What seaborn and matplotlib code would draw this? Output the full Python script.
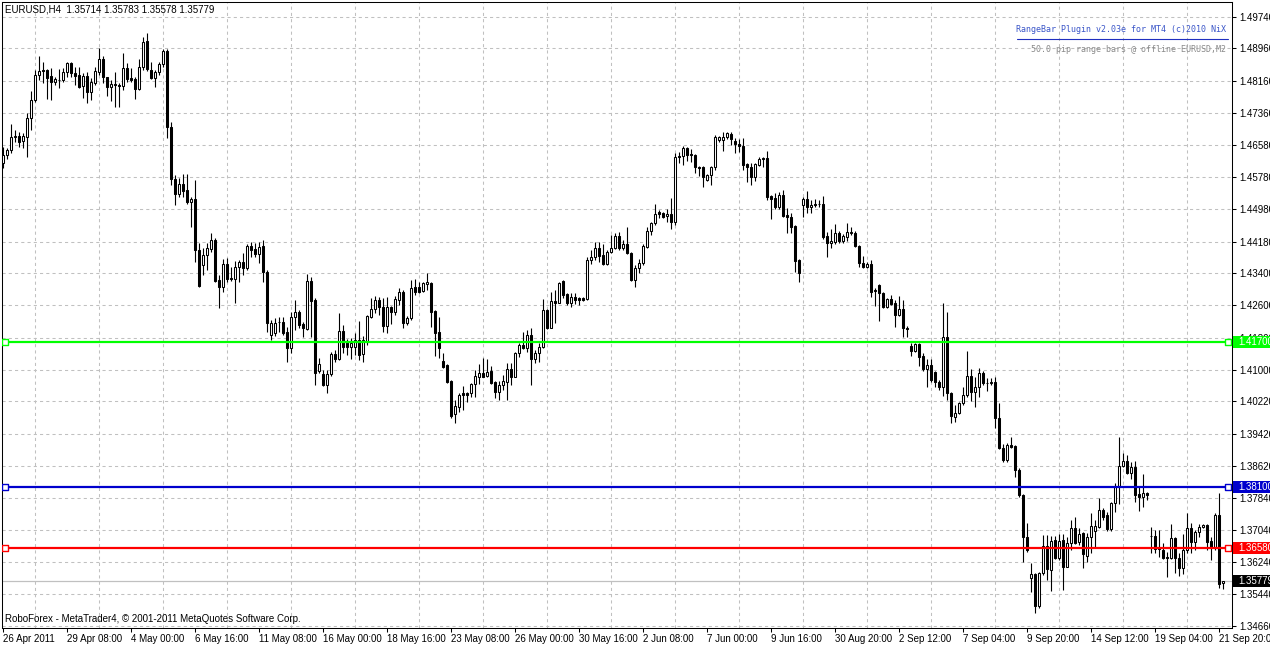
import numpy as np
import pandas as pd
import matplotlib
matplotlib.use("Agg")
import matplotlib.pyplot as plt
from matplotlib.patches import Rectangle
from matplotlib.lines import Line2D
from matplotlib.transforms import blended_transform_factory
import seaborn as sns

# ---------------- data (EURUSD H4 range bars) ----------------
symbol_info = "EURUSD,H4  1.35714 1.35783 1.35578 1.35779"

opens = [
    1.4612, 1.4632, 1.4645, 1.4677, 1.4679, 1.4667, 1.4677, 1.4724, 1.4768, 1.4830,
    1.4843, 1.4843, 1.4828, 1.4813, 1.4818, 1.4818, 1.4838, 1.4860, 1.4835, 1.4830,
    1.4803, 1.4828, 1.4788, 1.4811, 1.4838, 1.4870, 1.4825, 1.4801, 1.4808, 1.4806,
    1.4803, 1.4848, 1.4823, 1.4820, 1.4796, 1.4850, 1.4915, 1.4843, 1.4823, 1.4838,
    1.4858, 1.4890, 1.4702, 1.4573, 1.4536, 1.4560, 1.4546, 1.4516, 1.4523, 1.4397,
    1.4360, 1.4385, 1.4400, 1.4422, 1.4323, 1.4305, 1.4362, 1.4328, 1.4325, 1.4355,
    1.4367, 1.4352, 1.4407, 1.4400, 1.4387, 1.4407, 1.4343, 1.4186, 1.4192, 1.4219,
    1.4219, 1.4194, 1.4154, 1.4231, 1.4243, 1.4214, 1.4201, 1.4320, 1.4273, 1.4097,
    1.4090, 1.4063, 1.4090, 1.4140, 1.4127, 1.4196, 1.4169, 1.4157, 1.4157, 1.4174,
    1.4140, 1.4169, 1.4231, 1.4251, 1.4273, 1.4256, 1.4209, 1.4256, 1.4243, 1.4273,
    1.4293, 1.4216, 1.4229, 1.4305, 1.4305, 1.4296, 1.4313, 1.4315, 1.4246, 1.4194,
    1.4122, 1.4112, 1.4073, 1.3991, 1.4008, 1.4043, 1.4043, 1.4043, 1.4065, 1.4083,
    1.4092, 1.4085, 1.4097, 1.4070, 1.4045, 1.4063, 1.4070, 1.4102, 1.4083, 1.4142,
    1.4162, 1.4154, 1.4186, 1.4127, 1.4142, 1.4157, 1.4248, 1.4204, 1.4271, 1.4266,
    1.4320, 1.4288, 1.4266, 1.4281, 1.4278, 1.4278, 1.4276, 1.4372, 1.4380, 1.4402,
    1.4385, 1.4362, 1.4392, 1.4402, 1.4432, 1.4402, 1.4412, 1.4390, 1.4323, 1.4352,
    1.4365, 1.4404, 1.4444, 1.4464, 1.4491, 1.4489, 1.4481, 1.4486, 1.4466, 1.4630,
    1.4630, 1.4650, 1.4635, 1.4632, 1.4603, 1.4603, 1.4570, 1.4583, 1.4603, 1.4669,
    1.4669, 1.4677, 1.4684, 1.4667, 1.4660, 1.4655, 1.4610, 1.4603, 1.4578, 1.4607,
    1.4625, 1.4625, 1.4531, 1.4526, 1.4503, 1.4533, 1.4484, 1.4479, 1.4456, 1.4372,
    1.4508, 1.4523, 1.4503, 1.4511, 1.4511, 1.4511, 1.4432, 1.4414, 1.4417, 1.4439,
    1.4419, 1.4429, 1.4439, 1.4439, 1.4407, 1.4365, 1.4355, 1.4362, 1.4298, 1.4310,
    1.4291, 1.4256, 1.4276, 1.4266, 1.4236, 1.4251, 1.4204, 1.4159, 1.4147, 1.4164,
    1.4135, 1.4102, 1.4112, 1.4095, 1.4070, 1.4058, 1.4182, 1.4043, 1.3983, 1.3993,
    1.4018, 1.4038, 1.4085, 1.4045, 1.4058, 1.4092, 1.4068, 1.4068, 1.4070, 1.3981,
    1.3907, 1.3877, 1.3914, 1.3912, 1.3852, 1.3790, 1.3686, 1.3585, 1.3595, 1.3516,
    1.3597, 1.3664, 1.3605, 1.3679, 1.3634, 1.3679, 1.3612, 1.3672, 1.3709, 1.3674,
    1.3696, 1.3639, 1.3686, 1.3701, 1.3711, 1.3753, 1.3741, 1.3706, 1.3771, 1.3813,
    1.3862, 1.3875, 1.3845, 1.3860, 1.3793, 1.3786, 1.3795, 1.3689, 1.3689, 1.3659,
    1.3654, 1.3637, 1.3634, 1.3684, 1.3634, 1.3610, 1.3654, 1.3709, 1.3674, 1.3699,
    1.3711, 1.3716, 1.3677, 1.3662, 1.3741, 1.35714,
]

highs = [
    1.4652, 1.4650, 1.4709, 1.4694, 1.4689, 1.4687, 1.4736, 1.4791, 1.4843, 1.4877,
    1.4862, 1.4845, 1.4848, 1.4825, 1.4845, 1.4848, 1.4862, 1.4862, 1.4850, 1.4850,
    1.4835, 1.4838, 1.4823, 1.4850, 1.4897, 1.4877, 1.4825, 1.4818, 1.4838, 1.4811,
    1.4885, 1.4860, 1.4848, 1.4825, 1.4870, 1.4924, 1.4934, 1.4862, 1.4843, 1.4862,
    1.4895, 1.4895, 1.4714, 1.4583, 1.4575, 1.4585, 1.4585, 1.4528, 1.4570, 1.4414,
    1.4402, 1.4414, 1.4439, 1.4427, 1.4335, 1.4375, 1.4377, 1.4355, 1.4370, 1.4372,
    1.4390, 1.4412, 1.4417, 1.4414, 1.4417, 1.4422, 1.4348, 1.4224, 1.4229, 1.4231,
    1.4231, 1.4206, 1.4243, 1.4273, 1.4248, 1.4219, 1.4338, 1.4330, 1.4278, 1.4130,
    1.4100, 1.4100, 1.4144, 1.4149, 1.4241, 1.4211, 1.4177, 1.4179, 1.4192, 1.4221,
    1.4184, 1.4236, 1.4278, 1.4283, 1.4281, 1.4278, 1.4281, 1.4258, 1.4283, 1.4303,
    1.4298, 1.4233, 1.4323, 1.4325, 1.4318, 1.4318, 1.4340, 1.4318, 1.4248, 1.4231,
    1.4142, 1.4114, 1.4075, 1.4026, 1.4043, 1.4060, 1.4045, 1.4068, 1.4100, 1.4115,
    1.4130, 1.4127, 1.4110, 1.4073, 1.4073, 1.4088, 1.4117, 1.4117, 1.4144, 1.4167,
    1.4194, 1.4199, 1.4204, 1.4149, 1.4167, 1.4276, 1.4251, 1.4293, 1.4298, 1.4318,
    1.4323, 1.4291, 1.4291, 1.4291, 1.4281, 1.4281, 1.4380, 1.4397, 1.4417, 1.4417,
    1.4412, 1.4397, 1.4434, 1.4439, 1.4442, 1.4422, 1.4454, 1.4392, 1.4360, 1.4375,
    1.4412, 1.4454, 1.4466, 1.4511, 1.4496, 1.4491, 1.4499, 1.4526, 1.4637, 1.4640,
    1.4655, 1.4652, 1.4647, 1.4634, 1.4605, 1.4605, 1.4585, 1.4605, 1.4681, 1.4680,
    1.4689, 1.4689, 1.4689, 1.4674, 1.4672, 1.4674, 1.4612, 1.4612, 1.4612, 1.4627,
    1.4627, 1.4642, 1.4533, 1.4538, 1.4541, 1.4546, 1.4501, 1.4489, 1.4458, 1.4374,
    1.4528, 1.4543, 1.4521, 1.4523, 1.4521, 1.4531, 1.4442, 1.4449, 1.4461, 1.4444,
    1.4437, 1.4464, 1.4454, 1.4444, 1.4409, 1.4382, 1.4367, 1.4372, 1.4303, 1.4312,
    1.4293, 1.4278, 1.4286, 1.4273, 1.4283, 1.4273, 1.4209, 1.4167, 1.4167, 1.4166,
    1.4142, 1.4127, 1.4127, 1.4097, 1.4075, 1.4266, 1.4243, 1.4045, 1.4013, 1.4021,
    1.4058, 1.4147, 1.4102, 1.4083, 1.4105, 1.4097, 1.4080, 1.4080, 1.4083, 1.4018,
    1.3917, 1.3919, 1.3934, 1.3914, 1.3857, 1.3792, 1.3721, 1.3622, 1.3597, 1.3600,
    1.3691, 1.3691, 1.3689, 1.3689, 1.3694, 1.3694, 1.3686, 1.3729, 1.3736, 1.3709,
    1.3699, 1.3696, 1.3746, 1.3729, 1.3783, 1.3758, 1.3748, 1.3773, 1.3820, 1.3934,
    1.3894, 1.3889, 1.3872, 1.3875, 1.3813, 1.3842, 1.3798, 1.3711, 1.3704, 1.3704,
    1.3672, 1.3649, 1.3719, 1.3686, 1.3647, 1.3694, 1.3746, 1.3721, 1.3704, 1.3719,
    1.3719, 1.3719, 1.3686, 1.3746, 1.3796, 1.35783,
]

lows = [
    1.4600, 1.4622, 1.4637, 1.4664, 1.4652, 1.4650, 1.4627, 1.4694, 1.4763, 1.4818,
    1.4811, 1.4771, 1.4768, 1.4806, 1.4798, 1.4813, 1.4825, 1.4825, 1.4806, 1.4798,
    1.4773, 1.4761, 1.4768, 1.4806, 1.4830, 1.4811, 1.4778, 1.4766, 1.4751, 1.4751,
    1.4793, 1.4813, 1.4813, 1.4771, 1.4793, 1.4843, 1.4840, 1.4820, 1.4801, 1.4830,
    1.4850, 1.4674, 1.4558, 1.4508, 1.4528, 1.4528, 1.4511, 1.4454, 1.4367, 1.4306,
    1.4335, 1.4348, 1.4392, 1.4318, 1.4253, 1.4293, 1.4318, 1.4320, 1.4266, 1.4318,
    1.4335, 1.4348, 1.4380, 1.4380, 1.4365, 1.4318, 1.4194, 1.4174, 1.4184, 1.4194,
    1.4186, 1.4120, 1.4142, 1.4199, 1.4204, 1.4182, 1.4199, 1.4182, 1.4063, 1.4092,
    1.4061, 1.4043, 1.4085, 1.4120, 1.4125, 1.4142, 1.4137, 1.4127, 1.4137, 1.4125,
    1.4120, 1.4162, 1.4229, 1.4241, 1.4236, 1.4194, 1.4192, 1.4214, 1.4236, 1.4261,
    1.4204, 1.4211, 1.4224, 1.4286, 1.4291, 1.4293, 1.4298, 1.4206, 1.4135, 1.4130,
    1.4105, 1.4068, 1.3981, 1.3969, 1.3996, 1.4001, 1.4021, 1.4033, 1.4033, 1.4065,
    1.4082, 1.4083, 1.4065, 1.4031, 1.4026, 1.4050, 1.4026, 1.4063, 1.4082, 1.4132,
    1.4152, 1.4144, 1.4063, 1.4117, 1.4120, 1.4154, 1.4202, 1.4203, 1.4216, 1.4265,
    1.4278, 1.4261, 1.4256, 1.4263, 1.4261, 1.4271, 1.4273, 1.4362, 1.4372, 1.4367,
    1.4360, 1.4361, 1.4390, 1.4400, 1.4397, 1.4397, 1.4387, 1.4320, 1.4305, 1.4340,
    1.4360, 1.4402, 1.4434, 1.4459, 1.4476, 1.4477, 1.4466, 1.4449, 1.4459, 1.4612,
    1.4607, 1.4617, 1.4615, 1.4588, 1.4580, 1.4553, 1.4568, 1.4558, 1.4595, 1.4664,
    1.4642, 1.4672, 1.4657, 1.4637, 1.4640, 1.4595, 1.4565, 1.4558, 1.4568, 1.4605,
    1.4603, 1.4521, 1.4474, 1.4499, 1.4499, 1.4479, 1.4439, 1.4439, 1.4343, 1.4318,
    1.4479, 1.4489, 1.4489, 1.4503, 1.4503, 1.4424, 1.4380, 1.4402, 1.4412, 1.4414,
    1.4414, 1.4419, 1.4434, 1.4404, 1.4355, 1.4352, 1.4352, 1.4281, 1.4258, 1.4221,
    1.4253, 1.4253, 1.4261, 1.4206, 1.4234, 1.4182, 1.4182, 1.4135, 1.4144, 1.4110,
    1.4097, 1.4058, 1.4070, 1.4058, 1.4050, 1.4036, 1.4026, 1.3969, 1.3971, 1.3991,
    1.4013, 1.4033, 1.4023, 1.4008, 1.4033, 1.4063, 1.4048, 1.4063, 1.3956, 1.3905,
    1.3872, 1.3872, 1.3907, 1.3835, 1.3786, 1.3624, 1.3649, 1.3550, 1.3498, 1.3511,
    1.3592, 1.3580, 1.3553, 1.3632, 1.3629, 1.3555, 1.3611, 1.3654, 1.3670, 1.3667,
    1.3610, 1.3624, 1.3647, 1.3659, 1.3709, 1.3729, 1.3701, 1.3701, 1.3748, 1.3768,
    1.3860, 1.3842, 1.3830, 1.3773, 1.3751, 1.3761, 1.3778, 1.3647, 1.3647, 1.3637,
    1.3632, 1.3587, 1.3632, 1.3597, 1.3590, 1.3595, 1.3647, 1.3647, 1.3654, 1.3686,
    1.3709, 1.3654, 1.3629, 1.3654, 1.3560, 1.35578,
]

closes = [
    1.4632, 1.4645, 1.4677, 1.4679, 1.4664, 1.4679, 1.4724, 1.4768, 1.4830, 1.4840,
    1.4840, 1.4823, 1.4813, 1.4820, 1.4819, 1.4838, 1.4860, 1.4835, 1.4828, 1.4801,
    1.4828, 1.4788, 1.4813, 1.4840, 1.4870, 1.4825, 1.4801, 1.4808, 1.4806, 1.4803,
    1.4848, 1.4820, 1.4818, 1.4796, 1.4850, 1.4912, 1.4845, 1.4823, 1.4838, 1.4858,
    1.4890, 1.4702, 1.4573, 1.4536, 1.4560, 1.4543, 1.4516, 1.4523, 1.4397, 1.4308,
    1.4385, 1.4402, 1.4422, 1.4320, 1.4305, 1.4362, 1.4325, 1.4325, 1.4355, 1.4367,
    1.4352, 1.4407, 1.4397, 1.4387, 1.4404, 1.4343, 1.4216, 1.4216, 1.4216, 1.4218,
    1.4192, 1.4154, 1.4231, 1.4243, 1.4211, 1.4204, 1.4320, 1.4271, 1.4092, 1.4115,
    1.4063, 1.4090, 1.4140, 1.4127, 1.4196, 1.4157, 1.4157, 1.4167, 1.4174, 1.4137,
    1.4174, 1.4234, 1.4251, 1.4273, 1.4256, 1.4209, 1.4256, 1.4243, 1.4276, 1.4293,
    1.4216, 1.4229, 1.4303, 1.4293, 1.4293, 1.4315, 1.4318, 1.4243, 1.4192, 1.4154,
    1.4107, 1.4070, 1.3986, 1.4011, 1.4038, 1.4038, 1.4038, 1.4065, 1.4085, 1.4092,
    1.4082, 1.4095, 1.4068, 1.4045, 1.4063, 1.4073, 1.4102, 1.4083, 1.4142, 1.4162,
    1.4154, 1.4186, 1.4127, 1.4142, 1.4157, 1.4248, 1.4204, 1.4271, 1.4266, 1.4315,
    1.4286, 1.4266, 1.4281, 1.4273, 1.4273, 1.4273, 1.4372, 1.4380, 1.4402, 1.4382,
    1.4362, 1.4392, 1.4402, 1.4432, 1.4402, 1.4412, 1.4390, 1.4323, 1.4352, 1.4365,
    1.4407, 1.4444, 1.4464, 1.4486, 1.4486, 1.4479, 1.4486, 1.4466, 1.4627, 1.4627,
    1.4650, 1.4632, 1.4632, 1.4603, 1.4600, 1.4578, 1.4583, 1.4603, 1.4677, 1.4677,
    1.4677, 1.4687, 1.4672, 1.4660, 1.4655, 1.4607, 1.4603, 1.4578, 1.4610, 1.4622,
    1.4622, 1.4528, 1.4523, 1.4503, 1.4533, 1.4481, 1.4479, 1.4454, 1.4370, 1.4340,
    1.4523, 1.4503, 1.4508, 1.4508, 1.4510, 1.4429, 1.4414, 1.4419, 1.4439, 1.4419,
    1.4432, 1.4442, 1.4442, 1.4407, 1.4365, 1.4355, 1.4362, 1.4293, 1.4296, 1.4291,
    1.4256, 1.4276, 1.4263, 1.4236, 1.4251, 1.4204, 1.4201, 1.4147, 1.4164, 1.4132,
    1.4102, 1.4112, 1.4075, 1.4070, 1.4058, 1.4182, 1.4043, 1.3986, 1.3993, 1.4018,
    1.4038, 1.4085, 1.4045, 1.4058, 1.4092, 1.4068, 1.4067, 1.4070, 1.3981, 1.3907,
    1.3877, 1.3914, 1.3909, 1.3852, 1.3790, 1.3686, 1.3654, 1.3595, 1.3516, 1.3597,
    1.3664, 1.3607, 1.3677, 1.3634, 1.3677, 1.3612, 1.3672, 1.3709, 1.3672, 1.3694,
    1.3644, 1.3686, 1.3714, 1.3714, 1.3753, 1.3736, 1.3706, 1.3771, 1.3813, 1.3862,
    1.3875, 1.3845, 1.3860, 1.3790, 1.3786, 1.3795, 1.3790, 1.3688, 1.3656, 1.3656,
    1.3634, 1.3634, 1.3684, 1.3634, 1.3610, 1.3654, 1.3709, 1.3674, 1.3699, 1.3711,
    1.3716, 1.3674, 1.3662, 1.3741, 1.3571, 1.35779,
]

date_labels = [
    "26 Apr 2011", "29 Apr 08:00", "4 May 00:00", "6 May 16:00", "11 May 08:00",
    "16 May 00:00", "18 May 16:00", "23 May 08:00", "26 May 00:00", "30 May 16:00",
    "2 Jun 08:00", "7 Jun 00:00", "9 Jun 16:00", "30 Aug 20:00", "2 Sep 12:00",
    "7 Sep 04:00", "9 Sep 20:00", "14 Sep 12:00", "19 Sep 04:00", "21 Sep 20:00",
]

price_ticks = [1.49740, 1.48960, 1.48160, 1.47360, 1.46580, 1.45780, 1.44980,
               1.44180, 1.43400, 1.42600, 1.41800, 1.41000, 1.40220, 1.39420,
               1.38620, 1.37840, 1.37040, 1.36240, 1.35440, 1.34660]

level_prices = [1.41700, 1.38100, 1.36580]
level_colors = ["#00ff00", "#0000cd", "#ff0000"]
bid_price = 1.35779

plugin_title = "RangeBar Plugin v2.03e for MT4 (c)2010 NiX"
plugin_sub = "50.0 pip range bars @ offline EURUSD,M2"
copyright_text = "RoboForex - MetaTrader4, \u00a9 2001-2011 MetaQuotes Software Corp."

# ---------------- figure ----------------
sns.set_theme(style="white")
plt.rcParams["font.family"] = ["Liberation Sans", "DejaVu Sans"]

W, H = 1270, 645
fig = plt.figure(figsize=(W / 100, H / 100), dpi=100)
fig.patch.set_facecolor("white")
ax = fig.add_axes([2 / W, 1 - 628 / H, 1230 / W, 626 / H])
ax.set_facecolor("white")

n = len(closes)
assert len(opens) == n and len(highs) == n and len(lows) == n

df = pd.DataFrame({"bar": np.arange(n), "open": opens, "high": highs,
                   "low": lows, "close": closes})
df["bottom"] = df[["open", "close"]].min(axis=1)
df["height"] = (df["close"] - df["open"]).abs()
up = df["close"] >= df["open"]

# wicks
ax.vlines(df["bar"], df["low"], df["high"], color="black", lw=0.8, zorder=3)
# bodies
ax.bar(df.loc[up, "bar"], df.loc[up, "height"], bottom=df.loc[up, "bottom"],
       width=0.5, color="white", edgecolor="black", linewidth=0.75, zorder=4)
ax.bar(df.loc[~up, "bar"], df.loc[~up, "height"], bottom=df.loc[~up, "bottom"],
       width=0.5, color="black", edgecolor="black", linewidth=0.75, zorder=4)

ax.set_xlim(-0.33, 307.18)
ax.set_ylim(1.34610, 1.50111)

# axes / grid
ax.yaxis.tick_right()
ax.set_yticks(price_ticks)
ax.set_yticklabels([f"{p:.5f}" for p in price_ticks])
ax.set_xticks(range(0, 16 * len(date_labels), 16))
ax.set_xticklabels(date_labels)
for t in ax.get_xticklabels():
    t.set_horizontalalignment("left")
ax.set_xticks(range(8, n, 8), minor=True)
ax.set_axisbelow(True)
grid_kw = dict(color="#c0c0c0", linestyle=(0, (3, 3)), linewidth=0.75)
ax.grid(False)
ax.grid(True, which="minor", axis="x", **grid_kw)
ax.grid(True, which="major", axis="y", **grid_kw)
ax.tick_params(axis="x", which="minor", length=0)
ax.tick_params(axis="x", which="major", length=3, width=0.75, color="black",
               direction="out", pad=1.5, labelsize=7, labelcolor="black", bottom=True)
ax.tick_params(axis="y", which="major", length=3, width=0.75, color="black",
               direction="out", pad=2, labelsize=7, labelcolor="black",
               right=True, left=False)
for s in ax.spines.values():
    s.set_visible(True)
    s.set_color("black")
    s.set_linewidth(0.75)

# bid line
ax.axhline(bid_price, color="#c0c0c0", lw=0.9, zorder=2)

# level lines with square end markers
x0, x1 = 0.42, 306.2
for p, c in zip(level_prices, level_colors):
    ax.hlines(p, x0, x1, color=c, lw=1.6, zorder=5)
ends = pd.DataFrame({"x": [x0, x1] * 3,
                     "y": [p for p in level_prices for _ in range(2)],
                     "c": [c for c in level_colors for _ in range(2)]})
for c, g in ends.groupby("c"):
    sns.scatterplot(data=g, x="x", y="y", ax=ax, marker="s", s=18,
                    facecolor="white", edgecolor=c, linewidth=1.0, zorder=6,
                    legend=False)
ax.set_xlabel("")
ax.set_ylabel("")

# price labels on right axis
tr = blended_transform_factory(ax.transAxes, ax.transData)
box_h = 12 * (1.50111 - 1.34610) / 626
lab_x0 = (1233 - 2) / 1230
for p, c in list(zip(level_prices, level_colors)) + [(bid_price, "black")]:
    ax.add_patch(Rectangle((lab_x0, p - box_h / 2), 0.05, box_h, transform=tr,
                           facecolor=c, edgecolor="none", clip_on=False, zorder=10))
    ax.text((1238 - 2) / 1230, p, f"{p:.5f}", transform=tr, color="white",
            fontsize=7, va="center", ha="left", clip_on=False, zorder=11)

# texts
fig.text(5 / W, 1 - 10 / H, symbol_info, fontsize=7, va="center", ha="left", color="black")
fig.text(1226 / W, 1 - 29 / H, plugin_title, fontsize=6.0, va="center", ha="right",
         color="#3a55c8", family="DejaVu Sans Mono")
fig.add_artist(Line2D([1017 / W, 1228 / W], [1 - 39 / H] * 2, color="#1f2fc0", lw=0.8))
fig.text(1226 / W, 1 - 49 / H, plugin_sub, fontsize=6.0, va="center", ha="right",
         color="#8a8a8a", family="DejaVu Sans Mono")
fig.text(5 / W, 1 - 619 / H, copyright_text, fontsize=7, va="center", ha="left", color="black")

fig.savefig("out.png", dpi=100, facecolor="white")
